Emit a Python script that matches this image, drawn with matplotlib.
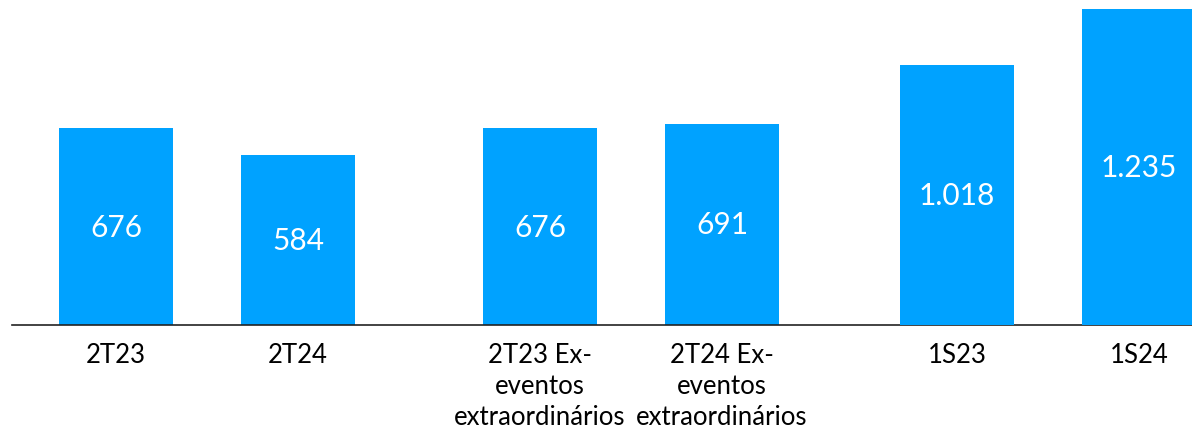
import matplotlib.pyplot as plt

plt.rcParams['font.family'] = ['Lato', 'DejaVu Sans']

# Dados do grafico
categorias = ["2T23", "2T24", "2T23 Ex-\neventos\nextraordinários",
              "2T24 Ex-\neventos\nextraordinários", "1S23", "1S24"]
valores_trimestre = [676, 584, 676, 691]
valores_semestre = [1018, 1235]

cor = '#00A2FF'

fig = plt.figure(figsize=(11.92, 4.35), dpi=100)
ax = fig.add_axes([12 / 1192, 109 / 435, 1 - 12 / 1192, 326 / 435])
ax2 = ax.twinx()

# posicoes: pares de barras separados por um espaco maior
pos = [0, 1, 2.33, 3.33, 4.62, 5.62]
largura = 0.626

b1 = ax.bar(pos[:4], valores_trimestre, width=largura, color=cor)
b2 = ax2.bar(pos[4:], valores_semestre, width=largura, color=cor)

ax.set_ylim(0, 1119)
ax2.set_ylim(0, 1276)
ax.set_xlim(-0.571, 5.912)


def fmt(v):
    return f"{v:,}".replace(',', '.')


for a, barras, vals in [(ax, b1, valores_trimestre), (ax2, b2, valores_semestre)]:
    for b, v in zip(barras, vals):
        a.text(b.get_x() + b.get_width() / 2, v / 2, fmt(v), ha='center', va='center',
               color='white', fontsize=21.5)

ax.set_xticks(pos)
ax.set_xticklabels(categorias, fontsize=18.5, linespacing=1.32)
ax.tick_params(axis='x', length=0, pad=12)
ax.set_yticks([])
ax2.set_yticks([])

for a in (ax, ax2):
    for s in ['top', 'right', 'left']:
        a.spines[s].set_visible(False)
    a.spines['bottom'].set_color('#222222')
    a.spines['bottom'].set_linewidth(1.2)
ax2.spines['bottom'].set_visible(False)

fig.savefig('out.png', dpi=100)
